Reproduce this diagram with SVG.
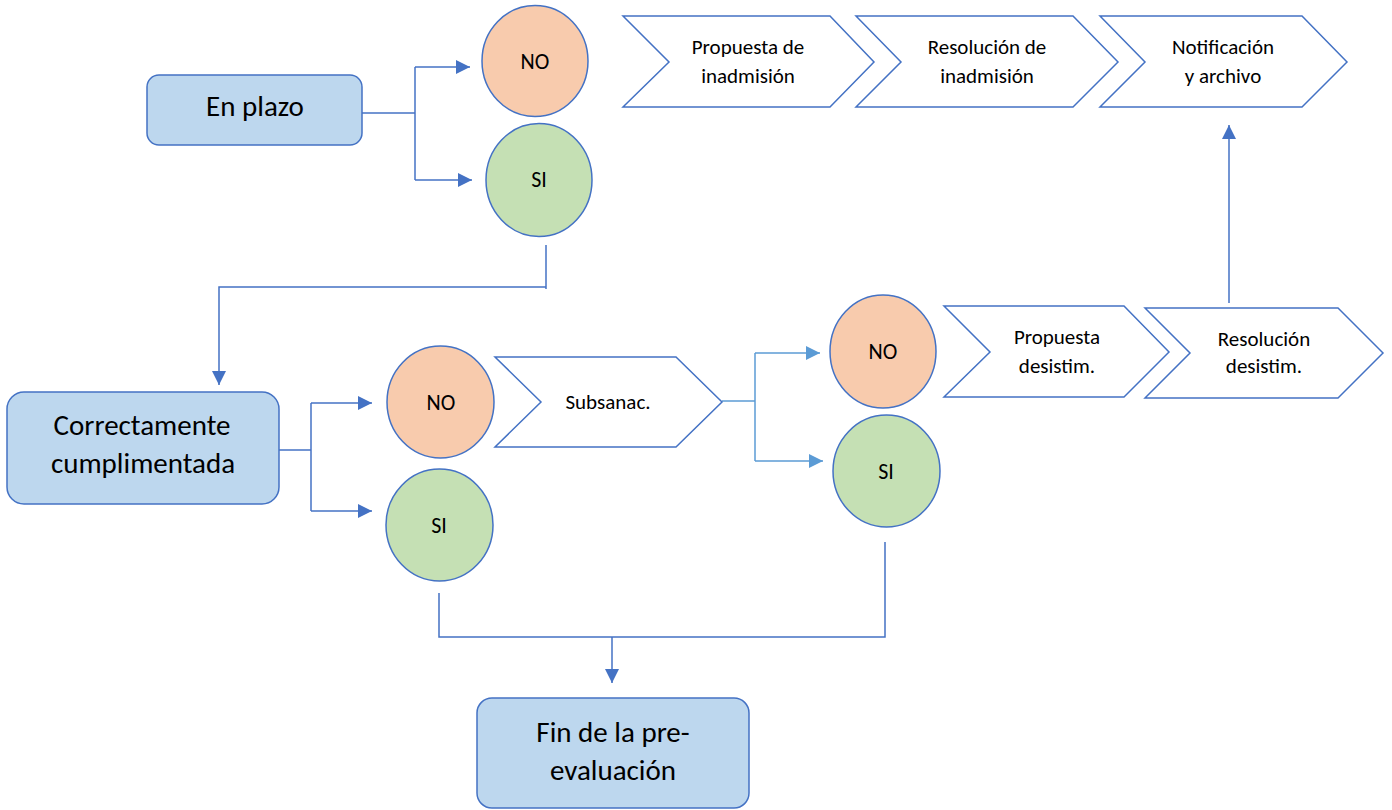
<svg xmlns="http://www.w3.org/2000/svg" width="1392" height="810" viewBox="0 0 1392 810">
<style>
.box{fill:#BDD7EE;stroke:#4472C4;stroke-width:1.5}
.no{fill:#F8CBAD;stroke:#4472C4;stroke-width:1.5}
.si{fill:#C5E0B4;stroke:#4472C4;stroke-width:1.5}
.chev{fill:#FFFFFF;stroke:#4472C4;stroke-width:1.5;stroke-linejoin:miter}
.t{font-family:Carlito,Calibri,Lato,"Liberation Sans",sans-serif;fill:#000;text-anchor:middle}
.big{font-size:29px}
.mid{font-size:22px}
.sm{font-size:21px}
.c{fill:none;stroke:#4472C4;stroke-width:1.5}
.c2{fill:none;stroke:#5B9BD5;stroke-width:1.5}
</style>
<defs>
<marker id="a" viewBox="0 0 10 10" refX="10" refY="5" markerUnits="userSpaceOnUse" markerWidth="15" markerHeight="14" orient="auto"><path d="M0,0 L10,5 L0,10 z" fill="#4472C4"/></marker>
<marker id="b" viewBox="0 0 10 10" refX="10" refY="5" markerUnits="userSpaceOnUse" markerWidth="15" markerHeight="14" orient="auto"><path d="M0,0 L10,5 L0,10 z" fill="#5B9BD5"/></marker>
</defs>
<g id="connectors">
<path class="c" d="M358,113 H415"/>
<path class="c" d="M415,67 V180"/>
<path class="c" d="M415,67 H470" marker-end="url(#a)"/>
<path class="c" d="M415,180 H472" marker-end="url(#a)"/>
<path class="c" d="M546,245 V289"/>
<path class="c" d="M546,287 H219 V385" marker-end="url(#a)"/>
<path class="c" d="M277,450 H311"/>
<path class="c" d="M311,403 V511"/>
<path class="c" d="M311,403 H372" marker-end="url(#a)"/>
<path class="c" d="M311,511 H372" marker-end="url(#a)"/>
<path class="c2" d="M722,401 H755"/>
<path class="c2" d="M755,353 V461"/>
<path class="c2" d="M755,353 H820" marker-end="url(#b)"/>
<path class="c2" d="M755,461 H823" marker-end="url(#b)"/>
<path class="c" d="M439,593 V637 H885 V542"/>
<path class="c" d="M612,637 V683" marker-end="url(#a)"/>
<path class="c" d="M1229,303 V125" marker-end="url(#a)"/>
</g>
<g id="en-plazo"><rect class="box" x="147" y="75" width="215" height="70" rx="12"/><text class="t big" x="255" y="116">En plazo</text></g>
<g id="no-1"><ellipse class="no" cx="535" cy="61" rx="53" ry="55.5"/><text class="t mid" x="535" y="69">NO</text></g>
<g id="si-1"><ellipse class="si" cx="539" cy="180" rx="53" ry="56.5"/><text class="t mid" x="539" y="187">SI</text></g>
<g id="propuesta-inadmision"><path class="chev" d="M623,16 H830 L874,62 L830,107 H623 L669,62 Z"/><text class="t sm" x="748" y="54">Propuesta de</text><text class="t sm" x="748" y="83">inadmisión</text></g>
<g id="resolucion-inadmision"><path class="chev" d="M856,16 H1073 L1118,62 L1073,107 H856 L901,62 Z"/><text class="t sm" x="987" y="54">Resolución de</text><text class="t sm" x="987" y="83">inadmisión</text></g>
<g id="notificacion"><path class="chev" d="M1100,16 H1302 L1347,62 L1302,107 H1100 L1145,62 Z"/><text class="t sm" x="1223" y="54">Notificación</text><text class="t sm" x="1223" y="83">y archivo</text></g>
<g id="correctamente"><rect class="box" x="7" y="392" width="272" height="112" rx="17"/><text class="t big" x="142" y="435">Correctamente</text><text class="t big" x="143" y="473">cumplimentada</text></g>
<g id="no-2"><ellipse class="no" cx="440.5" cy="402" rx="53.5" ry="56"/><text class="t mid" x="441" y="410">NO</text></g>
<g id="si-2"><ellipse class="si" cx="439.5" cy="525" rx="53.5" ry="56"/><text class="t mid" x="439" y="533">SI</text></g>
<g id="subsanac"><path class="chev" d="M495,357 H676 L722,402 L676,447 H495 L541,402 Z"/><text class="t sm" x="608" y="409">Subsanac.</text></g>
<g id="no-3"><ellipse class="no" cx="883" cy="351.5" rx="53" ry="56.5"/><text class="t mid" x="883" y="359">NO</text></g>
<g id="si-3"><ellipse class="si" cx="886.5" cy="471" rx="53.5" ry="56"/><text class="t mid" x="886" y="479">SI</text></g>
<g id="propuesta-desistim"><path class="chev" d="M944,306 H1124 L1169,352 L1124,397 H944 L990,352 Z"/><text class="t sm" x="1057" y="344">Propuesta</text><text class="t sm" x="1057" y="373">desistim.</text></g>
<g id="resolucion-desistim"><path class="chev" d="M1145,308 H1338 L1383,353 L1338,398 H1145 L1190,353 Z"/><text class="t sm" x="1264" y="346">Resolución</text><text class="t sm" x="1264" y="373">desistim.</text></g>
<g id="fin"><rect class="box" x="477" y="698" width="272" height="110" rx="15"/><text class="t big" x="613" y="742">Fin de la pre-</text><text class="t big" x="613" y="780">evaluación</text></g>
</svg>
